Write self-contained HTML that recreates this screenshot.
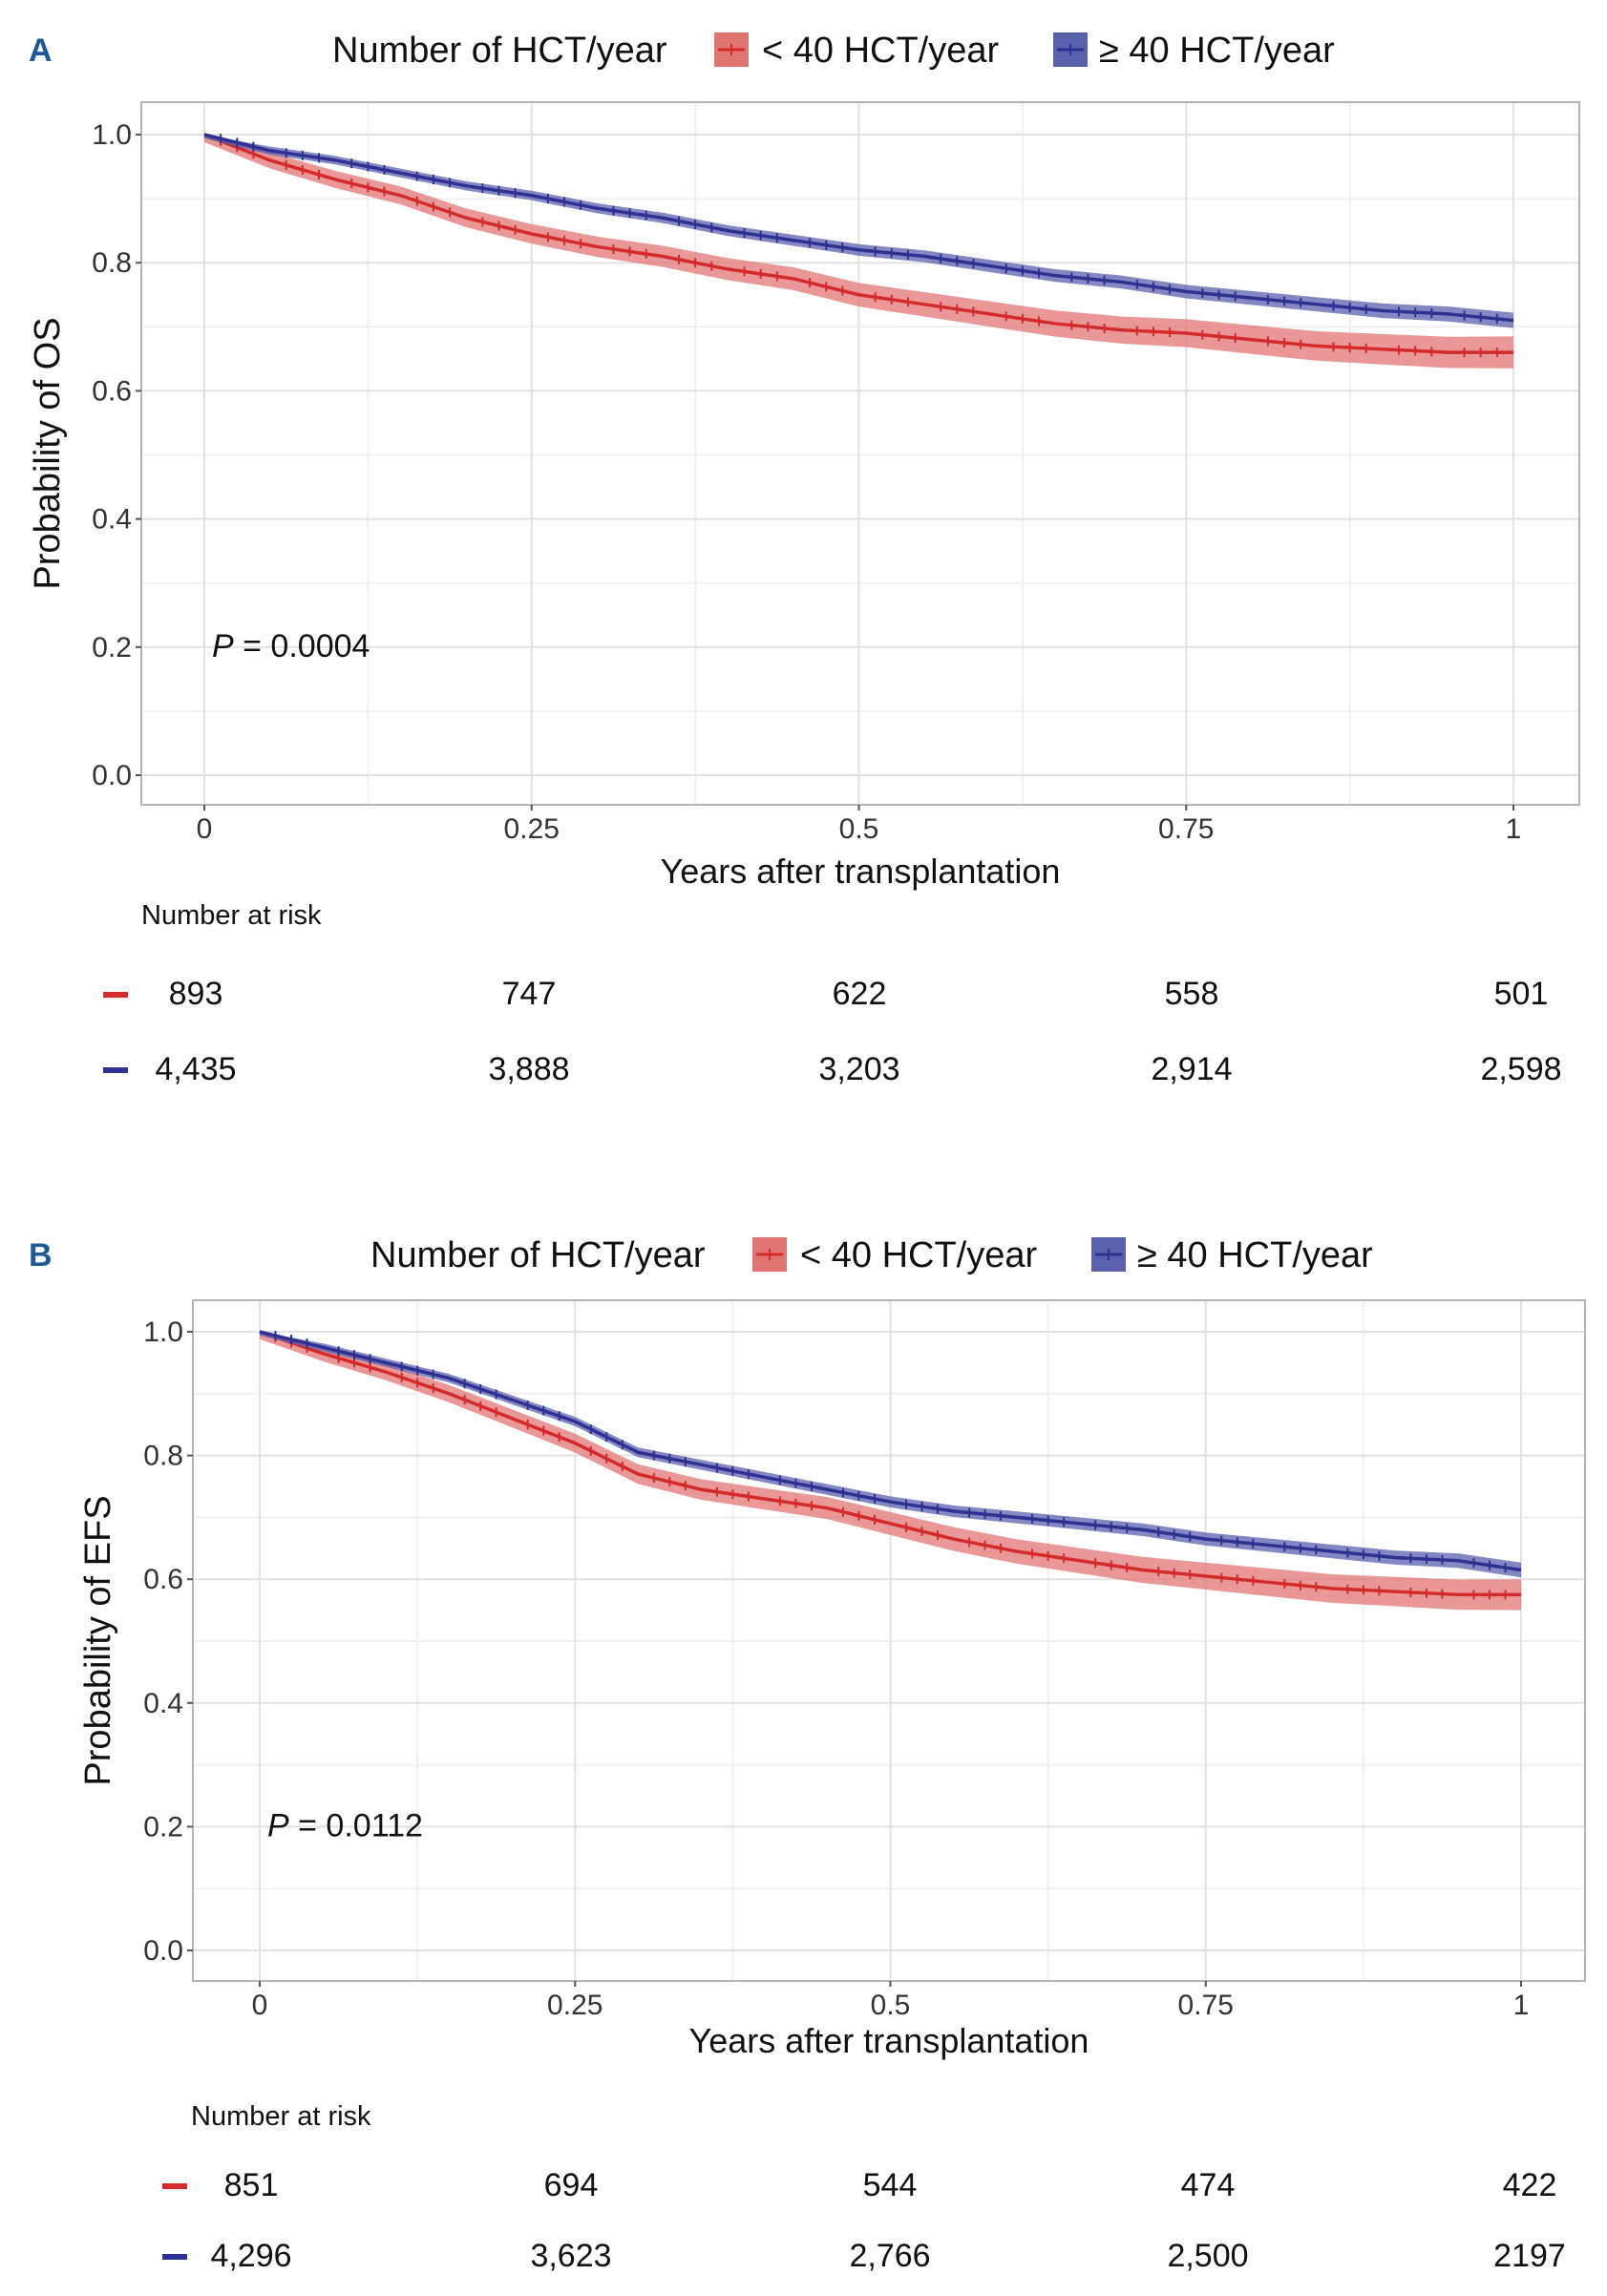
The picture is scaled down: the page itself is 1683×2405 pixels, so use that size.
<!DOCTYPE html>
<html><head><meta charset="utf-8"><style>
html,body{margin:0;padding:0;background:#fff;}
svg{display:block;font-family:"Liberation Sans",sans-serif;}
</style></head><body>
<svg id="fig" width="1683" height="2405" viewBox="0 0 1683 2405"></svg>
<script>
const xTicks=[0,0.25,0.5,0.75,1];
const xTickLabels=["0","0.25","0.5","0.75","1"];
const yTicks=[0,0.2,0.4,0.6,0.8,1.0];
const yTickLabels=["0.0","0.2","0.4","0.6","0.8","1.0"];
const times=[0,0.05,0.1,0.15,0.2,0.25,0.3,0.35,0.4,0.45,0.5,0.55,0.6,0.65,0.7,0.75,0.8,0.85,0.9,0.95,1];
const osLow=[1,0.96,0.93,0.905,0.87,0.845,0.825,0.81,0.79,0.775,0.75,0.735,0.72,0.705,0.695,0.69,0.68,0.67,0.665,0.66,0.66];
const osHigh=[1,0.975,0.96,0.94,0.92,0.905,0.885,0.87,0.85,0.835,0.82,0.81,0.795,0.78,0.77,0.755,0.745,0.735,0.725,0.72,0.71];
const efsLow=[1,0.965,0.935,0.9,0.86,0.82,0.77,0.745,0.73,0.715,0.69,0.665,0.645,0.63,0.615,0.605,0.595,0.585,0.58,0.575,0.575];
const efsHigh=[1,0.975,0.95,0.925,0.89,0.855,0.805,0.785,0.765,0.745,0.725,0.71,0.7,0.69,0.68,0.665,0.655,0.645,0.635,0.63,0.615];
const riskOsLow=["893","747","622","558","501"];
const riskOsHigh=["4,435","3,888","3,203","2,914","2,598"];
const riskEfsLow=["851","694","544","474","422"];
const riskEfsHigh=["4,296","3,623","2,766","2,500","2197"];

const NS="http://www.w3.org/2000/svg";
const svg=document.getElementById('fig');
function mk(tag,attrs,parent,text){const e=document.createElementNS(NS,tag);for(const k in attrs)e.setAttribute(k,attrs[k]);if(text!==undefined)e.textContent=text;(parent||svg).appendChild(e);return e;}

function panel(cfg){
  const g=mk('g',{});
  
  
  const X=v=>cfg.x0+(cfg.x1-cfg.x0)*v;
  const Y=v=>cfg.y0+(cfg.y1-cfg.y0)*v;
  [0.1,0.3,0.5,0.7,0.9].forEach(v=>mk('line',{x1:cfg.L,x2:cfg.R,y1:Y(v),y2:Y(v),stroke:'#f0f0f0','stroke-width':2},g));
  [0.125,0.375,0.625,0.875].forEach(v=>mk('line',{y1:cfg.T,y2:cfg.B,x1:X(v),x2:X(v),stroke:'#f0f0f0','stroke-width':2},g));
  yTicks.forEach(v=>mk('line',{x1:cfg.L,x2:cfg.R,y1:Y(v),y2:Y(v),stroke:'#e2e2e2','stroke-width':2},g));
  xTicks.forEach(v=>mk('line',{y1:cfg.T,y2:cfg.B,x1:X(v),x2:X(v),stroke:'#e2e2e2','stroke-width':2},g));
  mk('rect',{x:cfg.L,y:cfg.T,width:cfg.R-cfg.L,height:cfg.B-cfg.T,fill:'none',stroke:'#b5b5b5','stroke-width':2},g);
  const ya=mk('g',{},g);
  yTicks.forEach((v,i)=>{mk('line',{x1:cfg.L-6,x2:cfg.L,y1:Y(v),y2:Y(v),stroke:'#555','stroke-width':2},ya);
    mk('text',{x:cfg.L-10,y:Y(v)+10,'text-anchor':'end','font-size':30,fill:'#333'},ya,yTickLabels[i]);});
  const xa=mk('g',{},g);
  xTicks.forEach((v,i)=>{mk('line',{x1:X(v),x2:X(v),y1:cfg.B,y2:cfg.B+6,stroke:'#555','stroke-width':2},xa);
    mk('text',{x:X(v),y:cfg.B+35,'text-anchor':'middle','font-size':30,fill:'#333'},xa,xTickLabels[i]);});
  const xt=mk('text',{x:(cfg.L+cfg.R)/2,y:cfg.xtY,'text-anchor':'middle','font-size':36,fill:'#111'},g,'Years after  transplantation');
  
  const yt=mk('text',{transform:`translate(${cfg.ytX},${(cfg.T+cfg.B)/2}) rotate(-90)`,'text-anchor':'middle','font-size':38,fill:'#111'},g,cfg.ytitle);
  
  function series(vals,hw0,hw1,line,band,nm){
    const sg=mk('g',{},g);
    const hw=i=>hw0+(hw1-hw0)*times[i];
    const pu=times.map((t,i)=>`${X(t)},${Y(Math.min(1,vals[i]+hw(i)))}`);
    const pd=times.map((t,i)=>`${X(t)},${Y(vals[i]-hw(i))}`).reverse();
    mk('polygon',{points:pu.concat(pd).join(' '),fill:band,opacity:0.75},sg);
    const pl=times.map((t,i)=>`${X(t)},${Y(vals[i])}`).join(' ');
    mk('polyline',{points:pl,fill:'none',stroke:line,'stroke-width':3.5},sg);
    for(let i=1;i<times.length;i++){for(let k=1;k<4;k++){const t=times[i-1]+(times[i]-times[i-1])*k/4;const v=vals[i-1]+(vals[i]-vals[i-1])*k/4;
      mk('line',{x1:X(t),x2:X(t),y1:Y(v)-5,y2:Y(v)+5,stroke:line,'stroke-width':2},sg);}}
  }
  series(cfg.low,0.012,0.025,'#d42a2a','#e27474','series-lt40');
  series(cfg.high,0.006,0.012,'#2e3192','#5a60ad','series-ge40');
  const p=mk('text',{x:X(0)+8,y:Y(0.2)+10,'font-size':34,fill:'#111'},g);
  
  mk('tspan',{'font-style':'italic'},p,'P');mk('tspan',{},p,' = '+cfg.p);
  const lg=mk('g',{},g);
  mk('text',{x:cfg.legX,y:cfg.legY+13,'font-size':38,fill:'#111'},lg,'Number of HCT/year');
  const k1=cfg.legX+400;
  mk('rect',{x:k1,y:cfg.legY-18,width:36,height:36,fill:'#e27474'},lg);
  mk('line',{x1:k1+4,x2:k1+32,y1:cfg.legY,y2:cfg.legY,stroke:'#d42a2a','stroke-width':3},lg);
  mk('line',{x1:k1+18,x2:k1+18,y1:cfg.legY-6,y2:cfg.legY+6,stroke:'#d42a2a','stroke-width':2},lg);
  mk('text',{x:k1+50,y:cfg.legY+13,'font-size':38,fill:'#111'},lg,'< 40 HCT/year');
  const k2=k1+355;
  mk('rect',{x:k2,y:cfg.legY-18,width:36,height:36,fill:'#5a60ad'},lg);
  mk('line',{x1:k2+4,x2:k2+32,y1:cfg.legY,y2:cfg.legY,stroke:'#2e3192','stroke-width':3},lg);
  mk('line',{x1:k2+18,x2:k2+18,y1:cfg.legY-6,y2:cfg.legY+6,stroke:'#2e3192','stroke-width':2},lg);
  mk('text',{x:k2+48,y:cfg.legY+13,'font-size':38,fill:'#111'},lg,'≥ 40 HCT/year');
  const lab=mk('text',{x:30,y:cfg.legY+12,'font-size':34,'font-weight':'bold',fill:'#1f5a96'},g,cfg.label);
  
  const rt=mk('g',{},g);
  mk('text',{x:cfg.riskTitleX,y:cfg.riskTitleY,'font-size':29,fill:'#111'},rt,'Number at risk');
  [[cfg.riskLow,'#d42a2a',cfg.r1],[cfg.riskHigh,'#2e3192',cfg.r2]].forEach(([arr,col,yy])=>{
    mk('rect',{x:cfg.dashX,y:yy-13,width:26,height:6,fill:col},rt);
    arr.forEach((s,i)=>mk('text',{x:cfg.riskX[i],y:yy,'text-anchor':'middle','font-size':34,fill:'#111'},rt,s));
  });
}
panel({name:'panel-a-os',label:'A',L:148,R:1654,T:107,B:843,x0:214,x1:1585,y1:141,y0:812,
  ytitle:'Probability of OS',ytX:62,xtY:925,low:osLow,high:osHigh,p:'0.0004',legX:348,legY:52,
  riskTitleX:148,riskTitleY:968,r1:1052,r2:1131,dashX:108,riskX:[205,554,900,1248,1593],riskLow:riskOsLow,riskHigh:riskOsHigh});
panel({name:'panel-b-efs',label:'B',L:202,R:1660,T:1362,B:2075,x0:272,x1:1593,y1:1395,y0:2043,
  ytitle:'Probability of EFS',ytX:115,xtY:2150,low:efsLow,high:efsHigh,p:'0.0112',legX:388,legY:1314,
  riskTitleX:200,riskTitleY:2226,r1:2300,r2:2374,dashX:170,riskX:[263,598,932,1265,1602],riskLow:riskEfsLow,riskHigh:riskEfsHigh});
</script>
</body></html>
